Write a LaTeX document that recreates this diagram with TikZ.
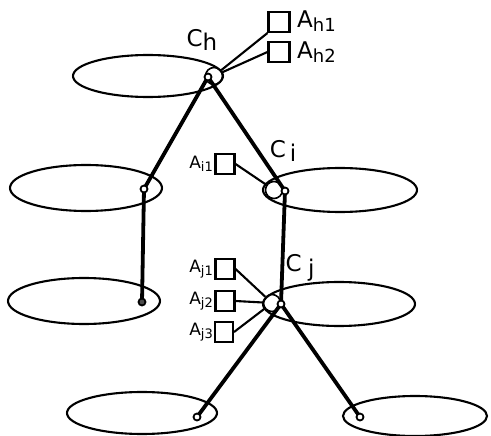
\documentclass[tikz,border=0pt]{standalone}
\usepackage{fontspec}
\setmainfont{DejaVu Sans}
\begin{document}
\begin{tikzpicture}[x=1pt,y=-1pt,
  ell/.style={draw,line width=2.1pt},
  pt/.style={circle,draw,fill=white,line width=1.8pt,inner sep=0pt,minimum size=7pt},
  ring/.style={circle,draw,line width=1.6pt,inner sep=0pt,minimum size=17pt},
  conn/.style={line width=3.8pt},
  thin/.style={line width=2.1pt},
  attr/.style={rectangle,draw,line width=2.1pt,inner sep=0pt,minimum width=21pt,minimum height=20pt},
  lbl/.style={inner sep=0pt,font=\fontsize{23}{23}\selectfont},
  slbl/.style={inner sep=0pt,font=\fontsize{17}{17}\selectfont}]
\useasboundingbox (0,0) rectangle (491,436);
% ellipses
\draw[ell] (148,76) ellipse [x radius=75,y radius=21];
\draw[ell] (86,188) ellipse [x radius=76,y radius=23];
\draw[ell] (84,301) ellipse [x radius=76,y radius=23];
\draw[ell] (340,190) ellipse [x radius=77,y radius=22];
\draw[ell] (339,304) ellipse [x radius=76,y radius=22];
\draw[ell] (142,413) ellipse [x radius=75,y radius=21];
\draw[ell] (415,416) ellipse [x radius=72,y radius=20];
% rings
\node[ring] (chr) at (214,76) {};
\node[ring] (cir) at (274,190) {};
\node[ring] (cjr) at (272,303) {};
% connectors
\coordinate (chc) at (208,77);
\coordinate (lmc) at (144,189);
\coordinate (llc) at (142,302);
\coordinate (cic) at (285,191);
\coordinate (cjc) at (281,304);
\coordinate (blc) at (197,417);
\coordinate (brc) at (360,417);
\draw[conn] (chc) -- (lmc);
\draw[conn] (chc) -- (cic);
\draw[conn] (lmc) -- (llc);
\draw[conn] (cic) -- (cjc);
\draw[conn] (cjc) -- (blc);
\draw[conn] (cjc) -- (brc);
% points
\node[pt] (ch) at (chc) {};
\node[pt] (lm) at (lmc) {};
\node[pt,fill=black!70] (ll) at (llc) {};
\node[pt] (ci) at (cic) {};
\node[pt] (cj) at (cjc) {};
\node[pt] (bl) at (blc) {};
\node[pt] (br) at (brc) {};
% attribute boxes
\node[attr] (ah1) at (279,22) {};
\node[attr] (ah2) at (279,52) {};
\node[attr,minimum width=19pt] (ai1) at (225,164) {};
\node[attr,minimum width=19pt] (aj1) at (225,269) {};
\node[attr,minimum width=19pt] (aj2) at (225,301) {};
\node[attr,minimum width=18pt] (aj3) at (224,332) {};
\draw[thin] (ah1.south west) -- (chr);
\draw[thin] (ah2.west) -- (chr);
\draw[thin] (ai1.east) -- (cir);
\draw[thin] (aj1.east) -- (cjr);
\draw[thin] (aj2.east) -- (cjr);
\draw[thin] (aj3.east) -- (cjr);
% labels
\node[lbl,anchor=west] (lah1) at (297,21) {A\raisebox{-0.35ex}{\fontsize{18}{18}\selectfont h1}};
\node[lbl,anchor=west] (lah2) at (297,52) {A\raisebox{-0.35ex}{\fontsize{18}{18}\selectfont h2}};
\node[lbl] (lch) at (202,40) {C\raisebox{-0.35ex}{h}};
\node[slbl,anchor=east] (lai1) at (213,164) {A\raisebox{-0.35ex}{\fontsize{13}{13}\selectfont i1}};
\node[lbl] (lci) at (283,151) {C\raisebox{-0.35ex}{\,i}};
\node[slbl,anchor=east] (laj1) at (213,269) {A\raisebox{-0.35ex}{\fontsize{13}{13}\selectfont j1}};
\node[slbl,anchor=east] (laj2) at (213,301) {A\raisebox{-0.35ex}{\fontsize{13}{13}\selectfont j2}};
\node[slbl,anchor=east] (laj3) at (213,332) {A\raisebox{-0.35ex}{\fontsize{13}{13}\selectfont j3}};
\node[lbl] (lcj) at (300,268) {C\raisebox{-0.35ex}{\;j}};
\end{tikzpicture}
\end{document}
